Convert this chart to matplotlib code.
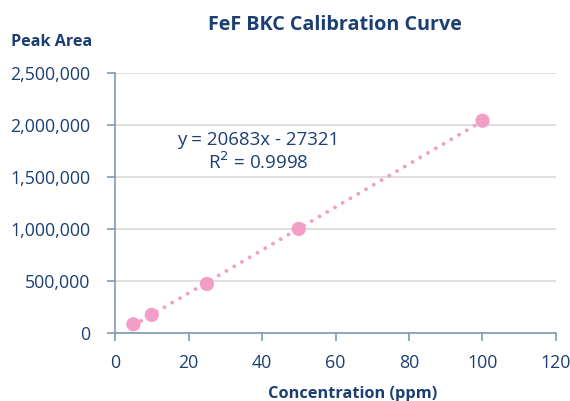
import matplotlib.pyplot as plt
import numpy as np
from matplotlib.ticker import FuncFormatter

plt.rcParams['font.family'] = ['Open Sans', 'DejaVu Sans']

conc = [5, 10, 25, 50, 100]
peak_area = [87000, 177000, 474000, 1004000, 2044000]
slope = 20683
intercept = -27321
r_squared = 0.9998

text_color = '#1b3f73'
pink = '#f39ec6'

fig = plt.figure(figsize=(5.7, 4.01), dpi=100)
ax = fig.add_axes([0.2018, 0.1688, 0.7736, 0.6484])

# trendline, round dots
xs = np.linspace(min(conc), max(conc), 100)
ax.plot(xs, slope * xs + intercept, linestyle=(0, (0.01, 2.3)), color=pink,
        linewidth=2.8, dash_capstyle='round', zorder=2)
ax.scatter(conc, peak_area, s=105, color=pink, edgecolors='none', zorder=3)

ax.set_xlim(0, 120)
ax.set_ylim(0, 2500000)
ax.set_xticks(range(0, 121, 20))
ax.set_yticks(range(0, 2500001, 500000))
ax.yaxis.set_major_formatter(FuncFormatter(lambda v, p: '{:,.0f}'.format(v)))

ax.grid(axis='y', color='#d9d9d9', linewidth=1.2)
ax.set_axisbelow(True)
for s in ['top', 'right']:
    ax.spines[s].set_visible(False)
for s in ['left', 'bottom']:
    ax.spines[s].set_color('#7f98b8')
    ax.spines[s].set_linewidth(1.2)
ax.tick_params(colors='#7f98b8', labelcolor=text_color, labelsize=12.8,
               length=6, width=1.2)
ax.tick_params(axis='x', pad=9)
ax.tick_params(axis='y', pad=12)

ax.text(0.324, 0.743, 'y = 20683x - 27321', transform=ax.transAxes,
        ha='center', va='center', fontsize=13.5, color=text_color)
ax.text(0.324, 0.659, 'R$^2$ = {:.4f}'.format(r_squared), transform=ax.transAxes,
        ha='center', va='center', fontsize=13.5, color=text_color)

fig.text(0.588, 0.937, 'FeF BKC Calibration Curve', ha='center', va='center',
         fontsize=14.2, fontweight='bold', color=text_color)
fig.text(0.02, 0.895, 'Peak Area', ha='left', va='center',
         fontsize=11.6, fontweight='bold', color=text_color)
fig.text(0.618, 0.018, 'Concentration (ppm)', ha='center', va='center',
         fontsize=11.8, fontweight='bold', color=text_color)

fig.savefig('out.png', dpi=100)
